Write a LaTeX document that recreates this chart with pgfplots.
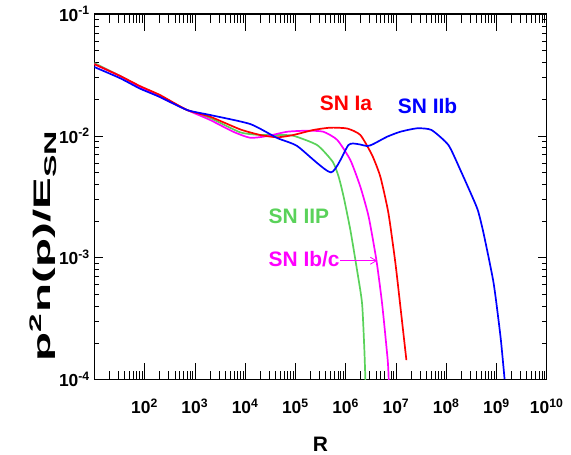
\documentclass[border=0pt]{standalone}
\usepackage{fontspec}
\setmainfont{Liberation Sans}
\usepackage{graphicx}
\usepackage{pgfplots}
\pgfplotsset{compat=1.18}
\usetikzlibrary{arrows.meta}
\definecolor{snred}{RGB}{255,0,0}
\definecolor{snblue}{RGB}{0,0,255}
\definecolor{snmag}{RGB}{255,0,255}
\definecolor{sngreen}{RGB}{90,210,90}
\newcommand{\tl}[1]{\mbox{\fontsize{17.5}{20}\selectfont\bfseries 10\textsuperscript{#1}}}
\begin{document}
\begin{tikzpicture}
\begin{axis}[
  scale only axis,
  width=452.4bp, height=365.5bp,
  xmode=log, ymode=log,
  xmin=1e1, xmax=1e10, ymin=1e-4, ymax=1e-1,
  axis line style={line width=1.1bp},
  tick align=inside,
  tick style={black, line width=0.6bp},
  xtick style={/pgfplots/major tick length=17bp, /pgfplots/minor tick length=9bp},
  ytick style={/pgfplots/major tick length=9bp, /pgfplots/minor tick length=5bp},
  xtick={1e1,1e2,1e3,1e4,1e5,1e6,1e7,1e8,1e9,1e10},
  xticklabels={,\tl{2},\tl{3},\tl{4},\tl{5},\tl{6},\tl{7},\tl{8},\tl{9},\tl{10}},
  ytick={1e-4,1e-3,1e-2,1e-1},
  yticklabels={\tl{-4},\tl{-3},\tl{-2},\tl{-1}},
  ticklabel style={font=\fontsize{17.5}{20}\selectfont\bfseries},
  xticklabel style={yshift=-16bp},
  yticklabel style={xshift=-1bp},
  xlabel={\textbf{R}},
  xlabel style={font=\fontsize{21}{24}\selectfont\bfseries, at={(axis description cs:0.5,-0.1765)}, anchor=center},
  ylabel={\resizebox{230bp}{\height}{\fontsize{24}{28}\selectfont\bfseries p\textsuperscript{2}n(p)/E\raisebox{-0.28em}{\fontsize{17}{20}\selectfont SN}}},
  ylabel style={at={(axis description cs:-0.113,0.365)}, anchor=center},
  every axis plot/.append style={line width=1.7bp, smooth, tension=0.35},
]
% SN IIP (green)
\addplot[sngreen] coordinates {
(10,0.0396) (32.7,0.0310) (81.3,0.0252) (204,0.0209) (703,0.01629)
(2018,0.01400) (7980,0.01069) (20000,0.01016) (43650,0.01016) (90780,0.01002)
(272300,0.00839) (553400,0.006124) (726100,0.004613) (912000,0.003162)
(1.242e6,0.001687) (1.687e6,0.0007907) (2.123e6,0.0004217) (2.360e6,0.0001742) (2.472e6,0.00009886)
};
% SN Ib/c (magenta)
\addplot[snmag] coordinates {
(10,0.0388) (32.7,0.0309) (81.3,0.0252) (204,0.0208) (703,0.01629)
(2018,0.01349) (5794,0.01081) (12650,0.009638) (27540,0.009954) (69020,0.01081)
(172600,0.01102) (359700,0.01081) (682300,0.009247) (1.242e6,0.006324)
(1.963e6,0.003819) (2.871e6,0.002168) (4.093e6,0.000955) (5.309e6,0.0004217)
(6.871e6,0.0001442) (7.194e6,0.00009886)
};
% SN Ia (red)
\addplot[snred] coordinates {
(10,0.0388) (32.7,0.0310) (81.3,0.0256) (204,0.0216) (703,0.01629)
(2018,0.01436) (7980,0.01130) (20000,0.01016) (43650,0.009727) (90780,0.01016)
(227500,0.01117) (495500,0.01167) (1.081e6,0.01148) (1.963e6,0.01016)
(3.357e6,0.00695) (4.909e6,0.004613) (7.096e6,0.002323) (9.772e6,0.0009036)
(1.230e7,0.0003945) (1.618e7,0.0001442)
};
% SN IIb (blue)
\addplot[snblue] coordinates {
(10,0.03673) (32.7,0.0297) (81.3,0.0244) (204,0.0208) (703,0.01629)
(2018,0.01483) (12650,0.01250) (43650,0.009594) (109100,0.00824) (511700,0.00501)
(1.132e6,0.00839) (1.710e6,0.00857) (2.704e6,0.00824) (3.565e6,0.00857)
(6.714e6,0.00984) (1.230e7,0.01081) (2.642e7,0.01153) (5.093e7,0.01117)
(1.112e8,0.00839) (1.919e8,0.005236) (3.076e8,0.003388) (4.256e8,0.00246)
(5.534e8,0.001592) (8.790e8,0.000618) (1.208e9,0.0002228) (1.452e9,0.0001007)
};
\node[anchor=base west, inner sep=0pt, text=snred, font=\fontsize{21}{24}\selectfont\bfseries] at (axis cs:3.034e5,0.01607) {SN Ia};
\node[anchor=base west, inner sep=0pt, text=snblue, font=\fontsize{21}{24}\selectfont\bfseries] at (axis cs:1.086e7,0.01531) {SN IIb};
\node[anchor=base west, inner sep=0pt, text=sngreen, font=\fontsize{21}{24}\selectfont\bfseries] at (axis cs:2.924e4,0.001914) {SN IIP};
\node[anchor=base west, inner sep=0pt, text=snmag, font=\fontsize{21}{24}\selectfont\bfseries] at (axis cs:2.924e4,0.000853) {SN Ib/c};
\draw[snmag, line width=0.8bp, -{Straight Barb[length=6bp,width=7bp]}] (axis cs:7.78e5,0.000944) -- (axis cs:4.22e6,0.000944);
\coordinate (bl) at (rel axis cs:0,0);
\coordinate (tr) at (rel axis cs:1,1);
\end{axis}
\pgfresetboundingbox
\path (bl) ++(-94.3bp,-75.5bp) coordinate (A);
\path (tr) ++(24.3bp,14bp) coordinate (B);
\path[use as bounding box] (A) rectangle (B);
\end{tikzpicture}
\end{document}
